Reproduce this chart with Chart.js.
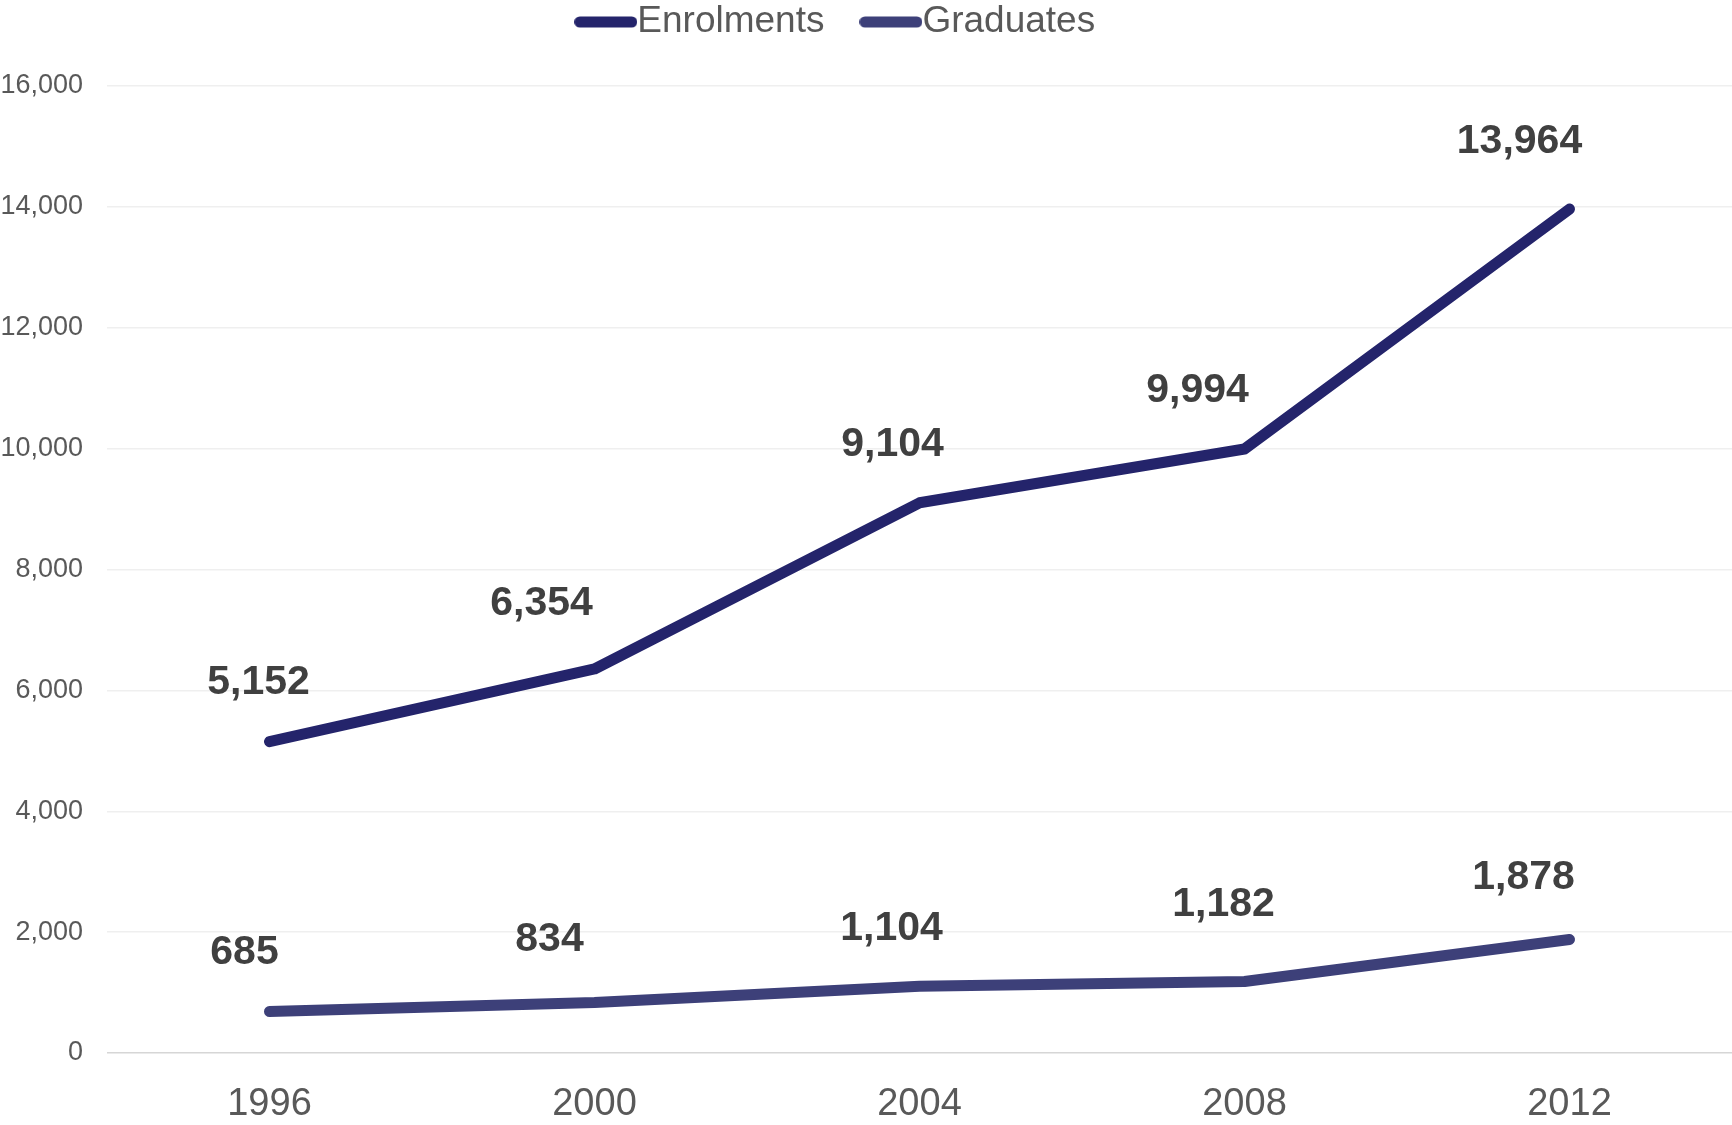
<!DOCTYPE html>
<html>
<head>
<meta charset="utf-8">
<title>Enrolments and Graduates</title>
<script src="https://cdn.jsdelivr.net/npm/chart.js@4.4.1/dist/chart.umd.min.js"></script>
<style>
  html, body { margin: 0; padding: 0; background: #fff; }
  #wrap { width: 1732px; height: 1125px; position: relative; }
</style>
</head>
<body>
<div id="wrap"><canvas id="chart"></canvas></div>
<script>
// Chart data
const years = ["1996", "2000", "2004", "2008", "2012"];
const enrolments = [5152, 6354, 9104, 9994, 13964];
const graduates = [685, 834, 1104, 1182, 1878];

// Label nudges (px from each point), so labels sit where the original put them
const enrolShift = [[-11, -59], [-53, -65], [-27, -58], [-47, -58], [-50, -67]];
const gradShift = [[-25, -59], [-45, -63], [-28, -58], [-21, -77], [-46, -62]];

const colors = {
  enrolments: "#24246b",
  graduates: "#3d4079",
  text: "#595959",
  label: "#404040",
  grid: "#efefef",
  zero: "#d6d6d6",
};

const FONT = "'Liberation Sans', Arial, sans-serif";
const fmt = (v) => v.toLocaleString("en-US");

// Small rounded line used as the legend marker
const legendLine = (color) => {
  const c = document.createElement("canvas");
  c.width = 63;
  c.height = 12;
  const g = c.getContext("2d");
  g.strokeStyle = color;
  g.lineWidth = 11;
  g.lineCap = "round";
  g.beginPath();
  g.moveTo(5.5, 6);
  g.lineTo(57.5, 6);
  g.stroke();
  return c;
};

// Push the plot down below the legend, and nudge the legend a bit left
const legendFix = {
  id: "legendFix",
  beforeInit(chart) {
    const fit = chart.legend.fit;
    chart.legend.fit = function () {
      fit.call(this);
      this.height += 35.5;
    };
  },
  afterLayout(chart) {
    chart.legend.right -= 44;
  },
};

// Bold value labels above each point
const valueLabels = {
  id: "valueLabels",
  afterDatasetsDraw(chart) {
    const { ctx } = chart;
    const shifts = [enrolShift, gradShift];
    ctx.save();
    ctx.font = "bold 41px " + FONT;
    ctx.fillStyle = colors.label;
    ctx.textAlign = "center";
    ctx.textBaseline = "middle";
    chart.data.datasets.forEach((ds, i) => {
      chart.getDatasetMeta(i).data.forEach((pt, j) => {
        const [dx, dy] = shifts[i][j];
        ctx.fillText(fmt(ds.data[j]), pt.x + dx, pt.y + dy);
      });
    });
    ctx.restore();
  },
};

const lineSet = (label, data, color) => ({
  label: label,
  data: data,
  borderColor: color,
  backgroundColor: color,
  borderWidth: 11,
  borderCapStyle: "round",
  borderJoinStyle: "round",
  pointStyle: legendLine(color),
  pointRadius: 0,
  pointHoverRadius: 0,
  tension: 0,
});

new Chart(document.getElementById("chart"), {
  type: "line",
  data: {
    labels: years,
    datasets: [
      lineSet("Enrolments", enrolments, colors.enrolments),
      lineSet("Graduates", graduates, colors.graduates),
    ],
  },
  options: {
    responsive: true,
    maintainAspectRatio: false,
    animation: false,
    layout: { padding: { top: -50, left: 0, right: 0, bottom: 0 } },
    scales: {
      x: {
        offset: true,
        grid: { display: false },
        border: { display: false },
        afterFit: (scale) => {
          scale.height = 72;
        },
        ticks: {
          color: colors.text,
          padding: 21,
          font: { family: FONT, size: 38 },
        },
      },
      y: {
        min: 0,
        max: 16000,
        border: { display: false },
        afterFit: (scale) => {
          scale.width = 107;
        },
        grid: {
          drawTicks: false,
          lineWidth: 1.5,
          color: (c) => (c.tick && c.tick.value === 0 ? colors.zero : colors.grid),
        },
        ticks: {
          stepSize: 2000,
          color: colors.text,
          padding: 24,
          font: { family: FONT, size: 27 },
          callback: (v) => fmt(v),
        },
      },
    },
    plugins: {
      tooltip: { enabled: false },
      legend: {
        position: "top",
        labels: {
          color: colors.text,
          usePointStyle: true,
          pointStyleWidth: 26,
          padding: 53.5,
          font: { family: FONT, size: 37 },
        },
      },
    },
  },
  plugins: [legendFix, valueLabels],
});
</script>
</body>
</html>
